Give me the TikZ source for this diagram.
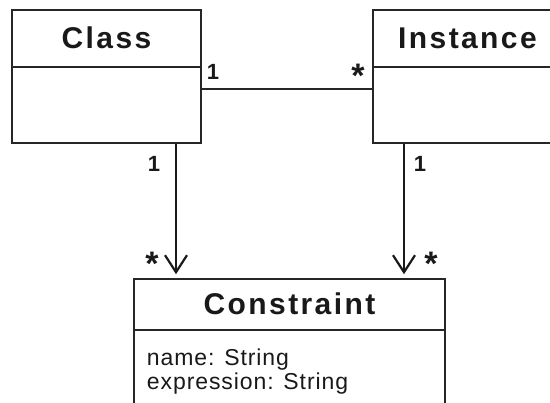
\documentclass[tikz,border=0pt]{standalone}
\usepackage{fontspec}
\setmainfont{Liberation Sans}
\newfontfamily\umlfont[LetterSpace=8]{Liberation Sans}
\newfontfamily\attrfont[LetterSpace=4]{Liberation Sans}
\usepackage{tikz}
\usetikzlibrary{arrows.meta}
\tikzstyle{classbox}=[rectangle,draw=black!85,line width=1.5pt,inner sep=0pt]
\tikzstyle{classtitle}=[anchor=base,inner sep=0pt,text=black!90,font=\umlfont\bfseries\fontsize{30}{32}\selectfont]
\tikzstyle{attr}=[anchor=base west,inner sep=0pt,text=black!90,font=\attrfont\fontsize{23}{25}\selectfont]
\tikzstyle{mult}=[anchor=base,inner sep=0pt,text=black!90,font=\bfseries\fontsize{22}{23}\selectfont]
\tikzstyle{many}=[mult,font=\bfseries\fontsize{34}{34}\selectfont]
\tikzstyle{umlline}=[draw=black!85,line width=1.5pt]
\tikzstyle{assoc}=[draw=black!85,line width=1.5pt,-]
\tikzstyle{dep}=[draw=black!90,line width=1.8pt,-{Straight Barb[length=17pt,width=22pt,line width=2.2pt]},shorten >=4pt]

\begin{document}
\begin{tikzpicture}[x=1pt,y=-1pt]
    \clip (0,0) rectangle (550,403);
    % First we draw the class boxes
    \foreach \pos/\name/\w/\h in {{(106.5,76.5)/class/189/133}, {(467.5,76.5)/instance/189/133}, {(289.5,354.5)/constraint/311/151}}
        \node[classbox,minimum width=\w pt,minimum height=\h pt] (\name) at \pos {};
    % Names and compartment lines
    \foreach \name/\txt/\d in {class/Class/39, instance/Instance/39, constraint/Constraint/36}
        \node[classtitle] (\name title) at ([yshift=-\d pt]\name.north) {\txt};
    \foreach \name/\d in {class/58, instance/58, constraint/52}
        \path[umlline] ([yshift=-\d pt]\name.north west) -- ([yshift=-\d pt]\name.north east);
    % Attributes of the constraint
    \node[attr] (nameattr) at ([xshift=13.5pt,yshift=-87pt]constraint.north west) {name: String};
    \node[attr] (exprattr) at ([yshift=-24pt]nameattr.base west) {expression: String};
    % Connect the boxes
    \path[assoc] ([yshift=-12.5pt]class.east) -- ([yshift=-12.5pt]instance.west);
    \path[dep] ([xshift=69.5pt]class.south) -- ([xshift=69.5pt]class.south |- constraint.north);
    \path[dep] ([xshift=-63.5pt]instance.south) -- ([xshift=-63.5pt]instance.south |- constraint.north);
    % Multiplicities
    \foreach \pos/\name in {{(213,80)/classone}, {(154,172)/classdown}, {(420,172)/instdown}}
        \node[mult] (\name) at \pos {1};
    \foreach \pos/\name in {{(358,88)/instmany}, {(152,276)/consmany}, {(431,276)/consinst}}
        \node[many] (\name) at \pos {*};
\end{tikzpicture}
\end{document}
